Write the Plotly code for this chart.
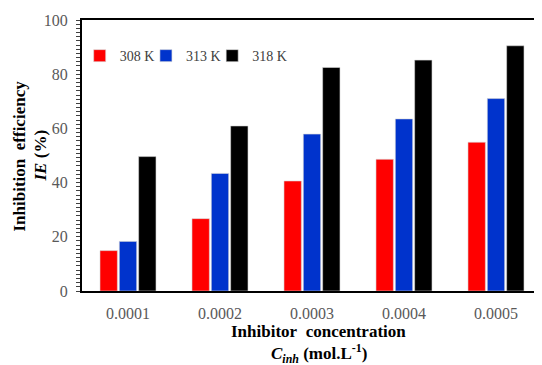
import plotly.graph_objects as go

categories = ["0.0001", "0.0002", "0.0003", "0.0004", "0.0005"]
ie_308 = [14.9, 26.7, 40.6, 48.6, 54.9]
ie_313 = [18.3, 43.4, 57.9, 63.5, 71.0]
ie_318 = [49.6, 60.9, 82.5, 85.2, 90.5]
series_names = ["308 K", "313 K", "318 K"]
colors = ["#FF0000", "#0033CC", "#000000"]
y_ticks = [0, 20, 40, 60, 80, 100]

SERIF = "Liberation Serif"

legend_ids = ["legend", "legend2", "legend3"]
legend_x = [-0.005, 0.139, 0.283]

fig = go.Figure()
for name, vals, col, lg in zip(series_names, [ie_308, ie_313, ie_318], colors, legend_ids):
    fig.add_trace(go.Bar(
        x=categories, y=vals, name=name, legend=lg,
        marker=dict(color=col, line=dict(color="#d9d9d9", width=0.6)),
    ))

legend_style = dict(
    orientation="h", y=0.867, xanchor="left", yanchor="middle",
    font=dict(family=SERIF, size=14, color="#404040"),
    bgcolor="rgba(0,0,0,0)", itemwidth=30,
)

title_font = dict(family=SERIF, size=17, color="black")

fig.update_layout(
    width=542, height=365,
    margin=dict(l=74, r=8, t=12, b=82, autoexpand=False),
    paper_bgcolor="white", plot_bgcolor="white",
    barmode="group", bargap=0.37, bargroupgap=0.1,
    font=dict(family=SERIF, size=16, color="#595959"),
    showlegend=True,
    legend=dict(x=legend_x[0], **legend_style),
    legend2=dict(x=legend_x[1], **legend_style),
    legend3=dict(x=legend_x[2], **legend_style),
    xaxis=dict(
        type="category", range=[-0.5, 4.5], automargin=False,
        showline=True, linecolor="black", linewidth=2, mirror=True,
        ticks="", showgrid=False, zeroline=False, ticklabelstandoff=7,
        tickfont=dict(family=SERIF, size=16, color="#595959"),
    ),
    yaxis=dict(
        range=[0, 100], tickvals=y_ticks, automargin=False,
        showline=True, linecolor="black", linewidth=2,
        ticks="outside", ticklen=4, tickwidth=1, tickcolor="#404040",
        minor=dict(ticks="outside", ticklen=4, dtick=20/13, tickwidth=1, tickcolor="#404040"),
        showgrid=False, zeroline=False, ticklabelstandoff=5,
        tickfont=dict(family=SERIF, size=16, color="#595959"),
    ),
    annotations=[
        dict(text="<b>Inhibition\u00a0 efficiency</b>", xref="paper", yref="paper",
             x=-0.1348, y=0.5, xanchor="center", yanchor="middle", textangle=-90,
             showarrow=False, font=title_font),
        dict(text="<b><i>IE</i> (%)</b>", xref="paper", yref="paper",
             x=-0.0913, y=0.5, xanchor="center", yanchor="middle", textangle=-90,
             showarrow=False, font=title_font),
        dict(text="<b>Inhibitor\u00a0 concentration</b>", xref="paper", yref="paper",
             x=0.515, y=-0.15, xanchor="center", yanchor="middle",
             showarrow=False, font=title_font),
        dict(text="<b><i>C<sub>inh</sub></i> (mol.L<sup>-1</sup>)</b>", xref="paper", yref="paper",
             x=0.515, y=-0.232, xanchor="center", yanchor="middle",
             showarrow=False, font=title_font),
    ],
)

fig.write_html("out.html")
